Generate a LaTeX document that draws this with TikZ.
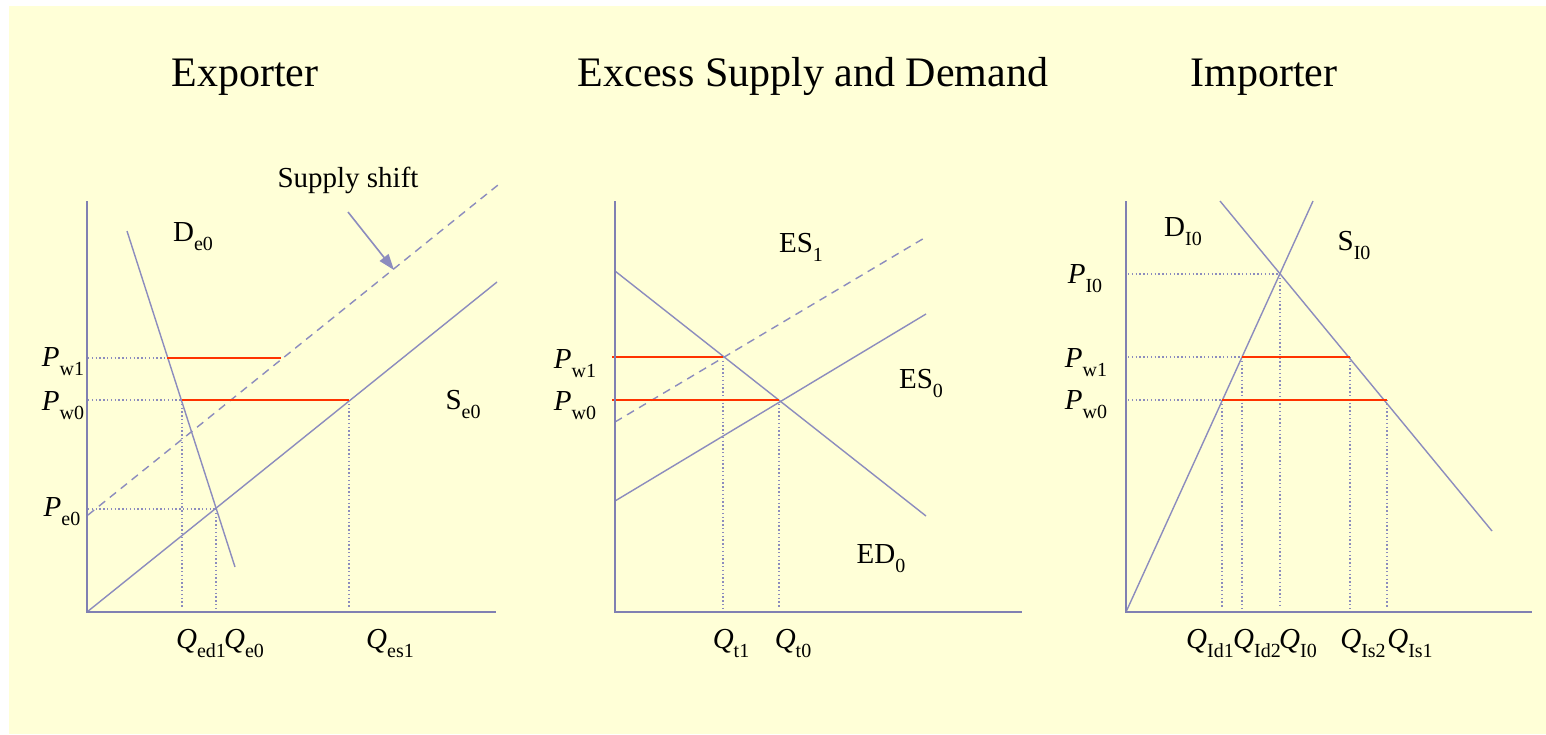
\documentclass[tikz,border=0pt]{standalone}
\usepackage{fontspec}
\setmainfont{Liberation Serif}
\usetikzlibrary{arrows.meta}
\definecolor{bgyellow}{RGB}{255,255,215}
\definecolor{curvec}{RGB}{140,140,190}
\definecolor{axisc}{RGB}{128,128,178}
\definecolor{pricered}{RGB}{255,51,0}
\newcommand\sublab[2]{#1\raisebox{-4.5pt}{\fontsize{10}{10}\selectfont #2}}
\newcommand\Pl[1]{\sublab{\textit{P}}{#1}}
\newcommand\Ql[1]{\sublab{\textit{Q}}{#1}}
\begin{document}
\begin{tikzpicture}[x=0.5pt,y=-0.5pt,
  axisline/.style={draw=axisc,line width=1.4pt},
  curveline/.style={draw=curvec,line width=0.7pt},
  shiftline/.style={draw=curvec,line width=0.7pt,dash pattern=on 4pt off 3pt},
  guide/.style={draw=curvec,line width=0.7pt,dash pattern=on 0.7pt off 1.2pt},
  worldp/.style={draw=pricered,line width=1pt},
  title/.style={font=\fontsize{21}{24}\selectfont,inner sep=0pt,anchor=base},
  lab/.style={font=\fontsize{14.5}{16}\selectfont,inner sep=0pt},
]
\useasboundingbox (0,0) rectangle (1546,734);
\fill[white] (0,0) rectangle (1546,734);
\fill[bgyellow] (9,6) rectangle (1546,734);

% titles
\node[title] (t1) at (245,86) {Exporter};
\node[title] (t2) at (813,86) {Excess Supply and Demand};
\node[title] (t3) at (1264,86) {Importer};

% ---------------- Exporter ----------------
\coordinate (eO) at (87,612);
\coordinate (eYtop) at (87,201);
\coordinate (eXend) at (496,612);
\coordinate (eD1) at (127,231);
\coordinate (eD2) at (235,567);
\coordinate (eS2) at (497,282);
\coordinate (eSS1) at (88,515);
\coordinate (eSS2) at (498,185);
\coordinate (eA) at (167,358);
\coordinate (eB) at (281,358);
\coordinate (eC) at (182,400);
\coordinate (eE) at (349,400);
\coordinate (eF) at (216,509);
\coordinate (eyw1) at (88,358);
\coordinate (eyw0) at (88,400);
\coordinate (eye0) at (88,509);
\coordinate (exd1) at (182,608);
\coordinate (exe0) at (216,608);
\coordinate (exs1) at (349,608);
\coordinate (arS) at (348,212);
\coordinate (arE) at (394,270);

\draw[guide] (eyw1) -- (eA);
\draw[guide] (eyw0) -- (eC);
\draw[guide] (eye0) -- (eF);
\draw[guide] (eC) -- (exd1);
\draw[guide] (eF) -- (exe0);
\draw[guide] (eE) -- (exs1);
\draw[curveline] (eD1) -- (eD2);
\draw[curveline] (eO) -- (eS2);
\draw[shiftline] (eSS1) -- (eSS2);
\draw[worldp] (eA) -- (eB);
\draw[worldp] (eC) -- (eE);
\draw[axisline] (eYtop) -- (eO) -- (eXend);
\draw[draw=curvec,line width=0.8pt,-{Triangle[length=8pt,width=5.5pt]},fill=curvec] (arS) -- (arE);

\node[lab] (shift) at (348,180) {Supply shift};
\node[lab] (De0) at (193,237) {\sublab{D}{e0}};
\node[lab] (Se0) at (463,404) {\sublab{S}{e0}};
\node[lab] (ePw1) at (63,362) {\Pl{w1}};
\node[lab] (ePw0) at (63,406) {\Pl{w0}};
\node[lab] (ePe0) at (62,512) {\Pl{e0}};
\node[lab] (eQd1) at (201,643) {\Ql{ed1}};
\node[lab] (eQe0) at (244,643) {\Ql{e0}};
\node[lab] (eQs1) at (390,643) {\Ql{es1}};

% ---------------- Excess ----------------
\coordinate (mO) at (615,612);
\coordinate (mYtop) at (615,201);
\coordinate (mXend) at (1022,612);
\coordinate (mD1) at (615,271);
\coordinate (mD2) at (926,516);
\coordinate (mS01) at (615,501);
\coordinate (mS02) at (926,314);
\coordinate (mS11) at (615,422);
\coordinate (mS12) at (926,237);
\coordinate (myw1) at (612,357);
\coordinate (mA) at (723,357);
\coordinate (myw0) at (612,400);
\coordinate (mB) at (779,400);
\coordinate (mq1) at (723,608);
\coordinate (mq0) at (779,608);

\draw[guide] (mA) -- (mq1);
\draw[guide] (mB) -- (mq0);
\draw[curveline] (mD1) -- (mD2);
\draw[curveline] (mS01) -- (mS02);
\draw[shiftline] (mS11) -- (mS12);
\draw[worldp] (myw1) -- (mA);
\draw[worldp] (myw0) -- (mB);
\draw[axisline] (mYtop) -- (mO) -- (mXend);

\node[lab] (ES1) at (801,247) {\sublab{ES}{1}};
\node[lab] (ES0) at (921,383) {\sublab{ES}{0}};
\node[lab] (ED0) at (881,559) {\sublab{ED}{0}};
\node[lab] (mPw1) at (575,364) {\Pl{w1}};
\node[lab] (mPw0) at (575,406) {\Pl{w0}};
\node[lab] (mQt1) at (731,643) {\Ql{t1}};
\node[lab] (mQt0) at (793,643) {\Ql{t0}};

% ---------------- Importer ----------------
\coordinate (iO) at (1126,612);
\coordinate (iYtop) at (1126,201);
\coordinate (iXend) at (1532,612);
\coordinate (iS2) at (1313,201);
\coordinate (iD1) at (1220,201);
\coordinate (iD2) at (1492,531);
\coordinate (iE) at (1280,274);
\coordinate (iyI0) at (1128,274);
\coordinate (iA) at (1242,357);
\coordinate (iB) at (1350,357);
\coordinate (iyw1) at (1128,357);
\coordinate (iC) at (1222,400);
\coordinate (iF) at (1387,400);
\coordinate (iyw0) at (1128,400);
\coordinate (iqC) at (1222,608);
\coordinate (iqA) at (1242,608);
\coordinate (iqE) at (1280,608);
\coordinate (iqB) at (1350,608);
\coordinate (iqF) at (1387,608);

\draw[guide] (iyI0) -- (iE);
\draw[guide] (iyw1) -- (iA);
\draw[guide] (iyw0) -- (iC);
\draw[guide] (iC) -- (iqC);
\draw[guide] (iA) -- (iqA);
\draw[guide] (iE) -- (iqE);
\draw[guide] (iB) -- (iqB);
\draw[guide] (iF) -- (iqF);
\draw[curveline] (iO) -- (iS2);
\draw[curveline] (iD1) -- (iD2);
\draw[worldp] (iA) -- (iB);
\draw[worldp] (iC) -- (iF);
\draw[axisline] (iYtop) -- (iO) -- (iXend);

\node[lab] (DI0) at (1183,232) {\sublab{D}{I0}};
\node[lab] (SI0) at (1354,245) {\sublab{S}{I0}};
\node[lab] (iPI0) at (1085,279) {\Pl{I0}};
\node[lab] (iPw1) at (1086,363) {\Pl{w1}};
\node[lab] (iPw0) at (1086,405) {\Pl{w0}};
\node[lab] (iQd1) at (1210,643) {\Ql{Id1}};
\node[lab] (iQd2) at (1257,643) {\Ql{Id2}};
\node[lab] (iQI0) at (1298,643) {\Ql{I0}};
\node[lab] (iQs2) at (1363,643) {\Ql{Is2}};
\node[lab] (iQs1) at (1410,643) {\Ql{Is1}};
\end{tikzpicture}
\end{document}
